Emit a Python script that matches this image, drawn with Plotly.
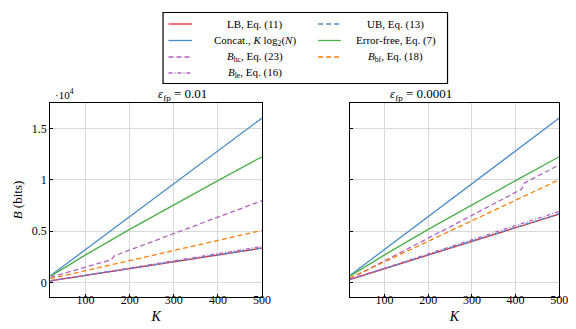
import plotly.graph_objects as go
from plotly.subplots import make_subplots

# ---- data (bits) ----
K = [20, 100, 200, 300, 400, 500]
concat = [640, 3200, 6400, 9600, 12800, 16000]
error_free = [579, 2675, 5154, 7559, 9914, 12233]

lb_01 = [133, 664, 1329, 1993, 2658, 3322]
ub_01 = [140, 675, 1345, 2015, 2685, 3355]
le_01 = [140, 697, 1395, 2093, 2790, 3490]
bf_01 = [350, 1140, 2120, 3100, 4080, 5060]
K_hc_01 = [20, 100, 158, 166, 300, 400, 500]
hc_01 = [490, 1480, 2200, 2600, 4740, 6350, 7950]

lb_0001 = [266, 1329, 2658, 3986, 5315, 6644]
ub_0001 = [275, 1345, 2680, 4015, 5350, 6680]
le_0001 = [280, 1390, 2770, 4150, 5530, 6910]
bf_0001 = [400, 2000, 4000, 6000, 8000, 10000]
K_hc_0001 = [20, 105, 252, 414, 420, 500]
hc_0001 = [330, 2200, 5450, 9080, 9670, 11450]

y_tickvals = [0, 5000, 10000, 15000]
y_ticktext = ["0", "0.5", "1", "1.5"]
x_tickvals = [100, 200, 300, 400, 500]

series_names = {
    "lb": "LB, Eq. (11)",
    "ub": "UB, Eq. (13)",
    "concat": "Concat., <i>K</i> log<sub>2</sub>(<i>N</i>)",
    "ef": "Error-free, Eq. (7)",
    "hc": "<i>B</i><sub>hc</sub>, Eq. (23)",
    "bf": "<i>B</i><sub>bf</sub>, Eq. (18)",
    "le": "<i>B</i><sub>le</sub>, Eq. (16)",
}

RED = "#e8262a"
BLUE = "#4a8cc8"
GREEN = "#4daf4a"
PURPLE = "#b064c0"
ORANGE = "#ff7f0e"
DASH = "5px,3px"
DASHDOT = "4px,2px,1px,2px"
styles = {
    "lb": (RED, "solid"),
    "ub": (BLUE, DASH),
    "concat": (BLUE, "solid"),
    "ef": (GREEN, "solid"),
    "hc": (PURPLE, DASH),
    "bf": (ORANGE, DASH),
    "le": (PURPLE, DASHDOT),
}
FONT = "Liberation Serif"

fig = make_subplots(rows=1, cols=2)

panels = [
    (1, lb_01, ub_01, le_01, bf_01, K_hc_01, hc_01),
    (2, lb_0001, ub_0001, le_0001, bf_0001, K_hc_0001, hc_0001),
]
W = 1.3
for col, lb, ub, le, bf, khc, hc in panels:
    for key, xs, ys in [("lb", K, lb), ("ub", K, ub), ("concat", K, concat), ("ef", K, error_free),
                        ("hc", khc, hc), ("bf", K, bf), ("le", K, le)]:
        c, d = styles[key]
        fig.add_trace(go.Scatter(x=xs, y=ys, mode="lines", name=series_names[key],
                                 line=dict(color=c, width=W, dash=d), showlegend=False), 1, col)

H = 329
WD = 576
ydom = [1 - 289 / H, 1 - 95 / H]
axis_common = dict(showgrid=True, gridcolor="#d9d9d9", gridwidth=1, showline=True,
                   linecolor="black", linewidth=1.2, mirror=True, ticks="inside",
                   ticklen=3, tickcolor="black", zeroline=False,
                   tickfont=dict(family=FONT, size=12, color="black"))
fig.update_xaxes(**axis_common, range=[20, 500], tickvals=x_tickvals, ticklabelstandoff=-9)
fig.update_yaxes(**axis_common, range=[-1430, 17470], tickvals=y_tickvals)
xt = dict(text="<i>K</i>", font=dict(family=FONT, size=14, color="black"), standoff=5)
fig.update_layout(
    xaxis=dict(domain=[43 / WD, 258 / WD], title=xt),
    xaxis2=dict(domain=[347 / WD, 560 / WD], title=xt),
    yaxis=dict(domain=ydom, ticktext=y_ticktext,
               title=dict(text="<i>B</i> (bits)", font=dict(family=FONT, size=13, color="black"), standoff=6)),
    yaxis2=dict(domain=ydom, showticklabels=False),
)

ann_font = dict(family=FONT, size=13, color="black")
fig.add_annotation(text="<i>ε</i><sub>fp</sub> = 0.01", x=(43 + 258) / 2 / WD, y=1 - 86 / H,
                   xref="paper", yref="paper", showarrow=False, font=ann_font, yanchor="middle")
fig.add_annotation(text="<i>ε</i><sub>fp</sub> = 0.0001", x=(347 + 560) / 2 / WD, y=1 - 86 / H,
                   xref="paper", yref="paper", showarrow=False, font=ann_font, yanchor="middle")
fig.add_annotation(text="·10<sup>4</sup>", x=46 / WD, y=1 - 86 / H, xref="paper", yref="paper",
                   showarrow=False, font=dict(family=FONT, size=11, color="black"),
                   xanchor="left", yanchor="middle")

# ---- legend (two columns, framed) ----
fig.add_shape(type="rect", xref="paper", yref="paper", x0=157.5 / WD, x1=446.5 / WD,
              y0=1 - 75.5 / H, y1=1 - 4.5 / H, line=dict(color="black", width=1.2))
legend_layout = [
    ["lb", "concat", "hc", "le"],
    ["ub", "ef", "bf"],
]
col_sample = [(163, 187), (315, 338)]
col_text = [251, 394]
row_y = [16, 32.5, 49, 65]
for ci, keys in enumerate(legend_layout):
    for ri, key in enumerate(keys):
        c, d = styles[key]
        yy = 1 - row_y[ri] / H
        fig.add_shape(type="line", xref="paper", yref="paper",
                      x0=col_sample[ci][0] / WD, x1=col_sample[ci][1] / WD, y0=yy, y1=yy,
                      line=dict(color=c, width=W, dash=d))
        fig.add_annotation(text=series_names[key], x=col_text[ci] / WD, y=yy, xref="paper", yref="paper",
                           showarrow=False, xanchor="center", yanchor="middle",
                           font=dict(family=FONT, size=11, color="black"))

fig.update_layout(
    width=WD, height=H,
    margin=dict(l=0, r=0, t=0, b=0),
    paper_bgcolor="white", plot_bgcolor="white",
    font=dict(family=FONT, color="black"),
    showlegend=False,
)

fig.write_html("out.html")
